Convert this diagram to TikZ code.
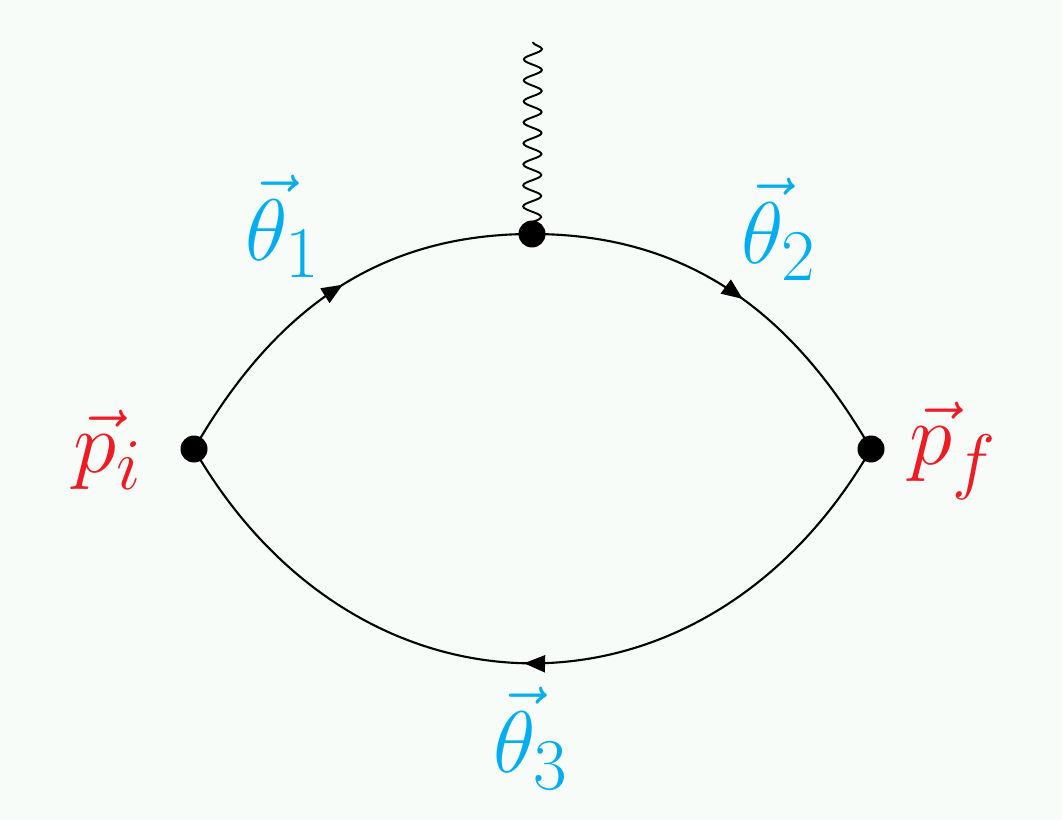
\documentclass[tikz,border=0pt]{standalone}
\usetikzlibrary{decorations.pathmorphing,decorations.markings,arrows.meta}
\definecolor{bg}{HTML}{F7FCF8}
\definecolor{lblcyan}{HTML}{00AEEF}
\definecolor{lblred}{HTML}{ED1C24}
\begin{document}
\begin{tikzpicture}[
  vtx/.style={circle,fill=black,inner sep=0pt,minimum size=0.54cm},
  prop/.style={line width=1.2pt,postaction={decorate},
    decoration={markings,mark=at position #1 with {\arrow{Triangle[length=0.42cm,width=0.34cm]}}}},
  prop/.default=0.53,
  photon/.style={line width=1.1pt,decorate,decoration={snake,amplitude=0.18cm,segment length=0.42cm}},
  cyanlbl/.style={text=lblcyan,font=\Huge,scale=2.0,transform shape},
  redlbl/.style={text=lblred,font=\Huge,scale=2.0,transform shape}
]
\fill[bg] (0,0) rectangle (21.24,-16.4);
\useasboundingbox (0,0) rectangle (21.24,-16.4);
\coordinate (pi) at (3.88,-8.98);
\coordinate (pf) at (17.42,-8.98);
\coordinate (top) at (10.64,-4.68);
\coordinate (wend) at (10.66,-0.84);
\draw[prop] (pi) to[out=60,in=180] (top);
\draw[prop] (top) to[out=0,in=120] (pf);
\draw[prop=0.51] (pf) to[out=-120,in=-60,looseness=1.25] (pi);
\draw[photon] (top) -- (wend);
\node[vtx] (vi) at (pi) {};
\node[vtx] (vf) at (pf) {};
\node[vtx] (vt) at (top) {};
\node[cyanlbl] (t1) at (5.66,-4.52) {$\vec{\theta}_1$};
\node[cyanlbl] (t2) at (15.58,-4.58) {$\vec{\theta}_2$};
\node[cyanlbl] (t3) at (10.62,-14.76) {$\vec{\theta}_3$};
\node[redlbl] (li) at (2.16,-9.0) {$\vec{p}_i$};
\node[redlbl] (lf) at (19.06,-9.02) {$\vec{p}_f$};
\end{tikzpicture}
\end{document}
